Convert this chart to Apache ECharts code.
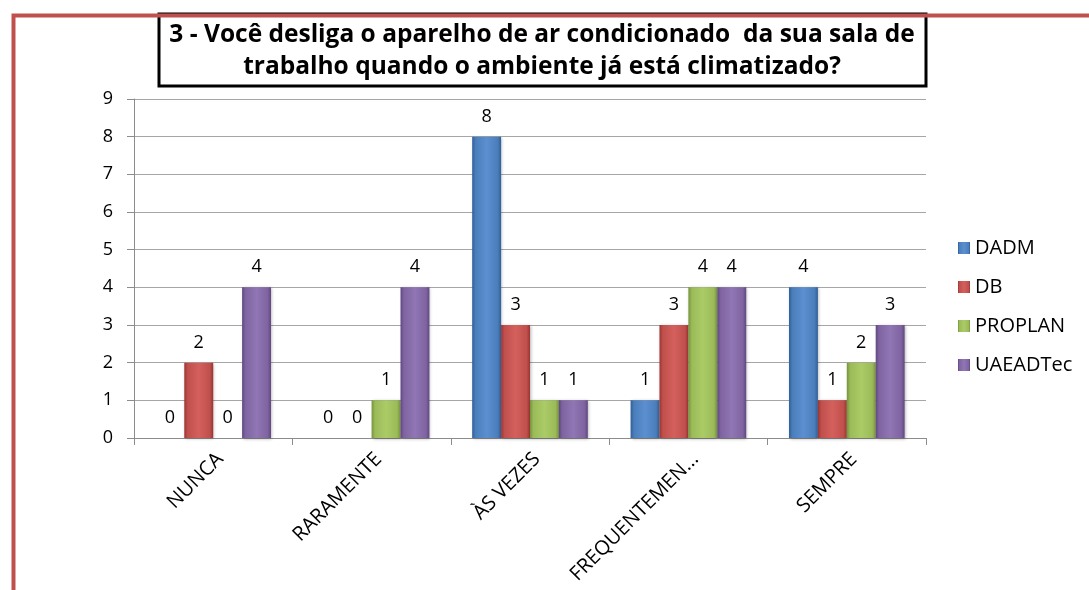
<!DOCTYPE html>
<html>
<head>
<meta charset="utf-8">
<script src="https://cdn.jsdelivr.net/npm/echarts@6/dist/echarts.min.js"></script>
<style>
html,body{margin:0;padding:0;background:#fff;}
#c{width:1089px;height:590px;}
</style>
</head>
<body>
<div id="c"></div>
<script>
const categories = ['NUNCA', 'RARAMENTE', 'ÀS VEZES', 'FREQUENTEMEN...', 'SEMPRE'];
const seriesNames = ['DADM', 'DB', 'PROPLAN', 'UAEADTec'];
const dadm = [0, 0, 8, 1, 4];
const db = [2, 0, 3, 3, 1];
const proplan = [0, 1, 1, 4, 2];
const uaeadtec = [4, 4, 1, 4, 3];
const yTicks = [0, 1, 2, 3, 4, 5, 6, 7, 8, 9];
const titleLines = ['3 - Você desliga o aparelho de ar condicionado  da sua sala de', 'trabalho quando o ambiente já está climatizado?'];

const seriesData = [dadm, db, proplan, uaeadtec];
const palette = [
  {base:'#4a7ebb', light:'#5b8fd0', dark:'#2f5f98'},
  {base:'#c0504d', light:'#d4605c', dark:'#9a3532'},
  {base:'#9bbb59', light:'#aacb66', dark:'#76933c'},
  {base:'#8064a2', light:'#9076b4', dark:'#5f4880'}
];
function grad(p){
  return new echarts.graphic.LinearGradient(0,0,1,0,[
    {offset:0,color:p.dark},{offset:0.12,color:p.base},{offset:0.5,color:p.light},{offset:0.88,color:p.base},{offset:1,color:p.dark}
  ]);
}
const FONT = '"Open Sans", Lato, sans-serif';
const chart = echarts.init(document.getElementById('c'), null, {renderer:'canvas'});
const option = {
  animation:false,
  backgroundColor:'#ffffff',
  textStyle:{fontFamily:FONT},
  grid:{left:134, right:163, top:99, bottom:152, containLabel:false},
  legend:{
    orient:'vertical', left:953, top:233,
    itemWidth:12, itemHeight:12, itemGap:19,
    textStyle:{fontFamily:FONT, fontSize:20, color:'#000'},
    data:seriesNames.map((n,i)=>({name:n, icon:'rect', itemStyle:{color:grad(palette[i])}}))
  },
  xAxis:{
    type:'category', data:categories,
    axisLine:{lineStyle:{color:'#8c8c8c', width:1}},
    axisTick:{show:true, length:7, lineStyle:{color:'#8c8c8c'}},
    axisLabel:{rotate:45, fontFamily:FONT, fontSize:20, color:'#000', margin:11, interval:0, verticalAlign:'top'}
  },
  yAxis:{
    type:'value', min:0, max:9, interval:1,
    axisLine:{show:true, lineStyle:{color:'#8c8c8c', width:1}},
    axisTick:{show:true, length:7, lineStyle:{color:'#8c8c8c'}},
    axisLabel:{fontFamily:FONT, fontSize:18, color:'#000', margin:21,
      formatter:v=>yTicks.indexOf(v)>=0?String(v):''},
    splitLine:{lineStyle:{color:'#a6a6a6', width:1}}
  },
  series:seriesNames.map((n,i)=>({
    name:n, type:'bar', data:seriesData[i],
    barGap:'0%', barCategoryGap:'27%',
    itemStyle:{color:grad(palette[i]), shadowColor:'rgba(0,0,0,0.3)', shadowBlur:3, shadowOffsetX:1, shadowOffsetY:1},
    label:{show:true, position:'top', distance:11, fontFamily:FONT, fontSize:18, color:'#000'}
  })),
  graphic:[
    {type:'rect', left:11, top:13, z:100, silent:true,
     shape:{x:0,y:0,width:1100,height:620},
     style:{fill:'none', stroke:'#c0504d', lineWidth:4}},
    {type:'rect', z:90, silent:true,
     shape:{x:159,y:14,width:767,height:72},
     style:{fill:'#fff', stroke:'#000', lineWidth:3}},
    {type:'text', z:91, silent:true, x:542, y:35,
     style:{text:titleLines[0], fontFamily:FONT, fontWeight:'bold', fontSize:24.5, fill:'#000', align:'center', verticalAlign:'middle'}},
    {type:'text', z:91, silent:true, x:542, y:67,
     style:{text:titleLines[1], fontFamily:FONT, fontWeight:'bold', fontSize:24.5, fill:'#000', align:'center', verticalAlign:'middle'}}
  ]
};
chart.setOption(option);
</script>
</body>
</html>
